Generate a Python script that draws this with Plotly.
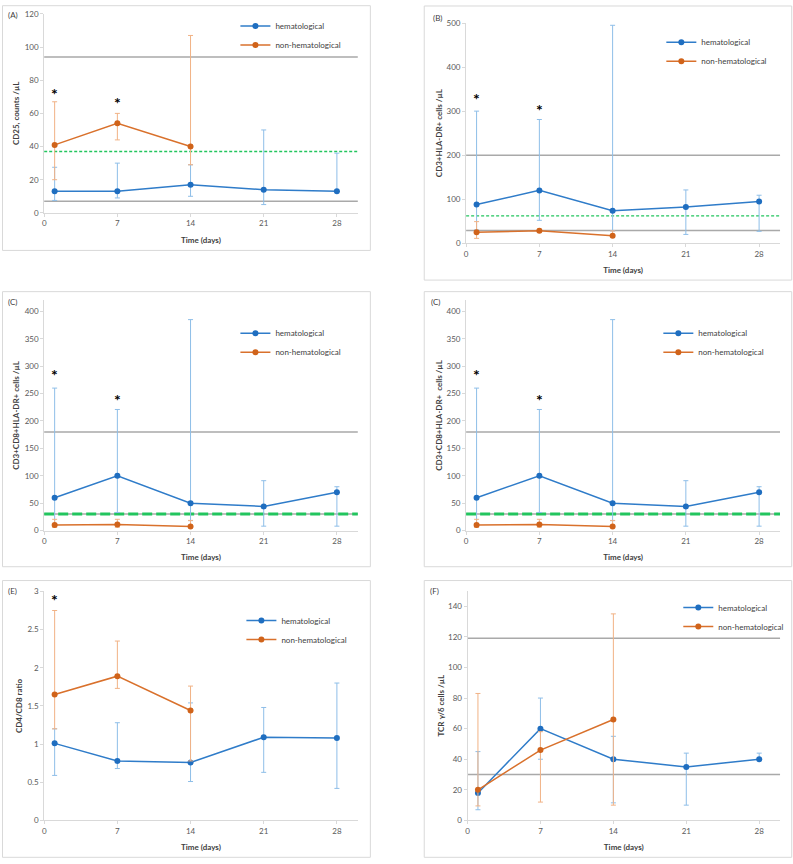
import plotly.graph_objects as go

W, H = 793, 864

# ---------------- data ----------------
days_hem = [1, 7, 14, 21, 28]
days_non = [1, 7, 14]
x_ticks = [0, 7, 14, 21, 28]

# (A) CD25
cd25_hem = [13, 13, 17, 14, 13]
cd25_hem_hi = [27.5, 30, 29, 50, 36]
cd25_hem_lo = [7.5, 9, 10, 5, 13]
cd25_non = [41, 54, 40]
cd25_non_hi = [67, 60, 107]
cd25_non_lo = [20, 44, 29]
cd25_ref = [94, 7]
cd25_green = 37
cd25_star_x = [1, 7]
cd25_star_y = [72, 66.5]

# (B) CD3+HLA-DR+
dr_hem = [88, 120, 74, 82, 95]
dr_hem_hi = [300, 281, 495, 121, 109]
dr_hem_lo = [30, 52, 28, 20, 27]
dr_non = [25, 28.5, 17]
dr_non_hi = [49, 32, 28]
dr_non_lo = [11, 25, 17]
dr_ref = [200, 29]
dr_green = 62
dr_star_x = [1, 7]
dr_star_y = [329, 303]

# (C) CD3+CD8+HLA-DR+
cd8_hem = [60, 100, 50, 44, 70]
cd8_hem_hi = [260, 221, 385, 91, 80]
cd8_hem_lo = [10, 33, 18, 8, 8]
cd8_non = [10, 11, 7.5]
cd8_non_hi = [20.5, 20.5, 18.5]
cd8_non_lo = [6, 6, 7]
cd8_ref = [180, 30]
cd8_green = 30
cd8_star_x = [1, 7]
cd8_star_y = [284, 239]

# (E) CD4/CD8 ratio
ratio_hem = [1.01, 0.78, 0.76, 1.09, 1.08]
ratio_hem_hi = [1.2, 1.28, 1.54, 1.48, 1.8]
ratio_hem_lo = [0.59, 0.68, 0.51, 0.63, 0.42]
ratio_non = [1.65, 1.89, 1.44]
ratio_non_hi = [2.75, 2.35, 1.76]
ratio_non_lo = [1.2, 1.73, 0.78]
ratio_star_x = [1]
ratio_star_y = [2.9]

# (F) TCR gamma/delta
gd_hem = [18, 60, 40, 35, 40]
gd_hem_hi = [45, 80, 55, 44, 44]
gd_hem_lo = [7, 40, 11.5, 10, 40]
gd_non = [20, 46, 66]
gd_non_hi = [83, 58, 135]
gd_non_lo = [9.5, 12, 10]
gd_ref = [119, 30]

# ---------------- style ----------------
FONT = "Lato, 'Open Sans', sans-serif"
HEM_LINE = "#2F7CC9"
HEM_MARK = "#1F6EC0"
HEM_ERR = "#8EBEE8"
NON_LINE = "#D9712C"
NON_MARK = "#D0631A"
NON_ERR = "#F1B285"
GRAY_REF = "#A9A9A9"
GREEN = "#22C55E"
AXIS = "#D9D9D9"


def px(xp):
    return xp / W


def py(yp):
    return 1 - yp / H


panels = [
    dict(label="(A)", ytitle="CD25, counts /µL", yr=[0, 120], dt=20,
         hem=(cd25_hem, cd25_hem_hi, cd25_hem_lo), non=(cd25_non, cd25_non_hi, cd25_non_lo),
         ref=cd25_ref, green=cd25_green, gwidth=1.5, gdash="3px,2px",
         stars=(cd25_star_x, cd25_star_y),
         plot=(42.3, 356.7, 9, 210.3), box=(0.5, 369.3, 0.7, 248.3),
         lab=(4, 10), leg=(234, 18.5), leggap=0, stand=(3, 9)),
    dict(label="(B)", ytitle="CD3+HLA-DR+ cells /µL", yr=[0, 500], dt=100,
         hem=(dr_hem, dr_hem_hi, dr_hem_lo), non=(dr_non, dr_non_hi, dr_non_lo),
         ref=dr_ref, green=dr_green, gwidth=1.2, gdash="3px,2px",
         stars=(dr_star_x, dr_star_y),
         plot=(465.3, 780, 18.3, 241), box=(423.3, 791.7, 1, 278.3),
         lab=(430, 13), leg=(661, 35), leggap=0, stand=(2, 9)),
    dict(label="(C)", ytitle="CD3+CD8+HLA-DR+ cells /µL", yr=[0, 420], dt=50,
         hem=(cd8_hem, cd8_hem_hi, cd8_hem_lo), non=(cd8_non, cd8_non_hi, cd8_non_lo),
         ref=cd8_ref, green=cd8_green, gwidth=3, gdash="10px,4px",
         stars=(cd8_star_x, cd8_star_y),
         plot=(42.3, 356.7, 298.9, 531.7), box=(0.5, 369.3, 290, 568.3),
         lab=(4, 300), leg=(234, 329.5), leggap=2, stand=(3, 9)),
    dict(label="(C)", ytitle="CD3+CD8+HLA-DR+  cells /µL", yr=[0, 420], dt=50,
         hem=(cd8_hem, cd8_hem_hi, cd8_hem_lo), non=(cd8_non, cd8_non_hi, cd8_non_lo),
         ref=cd8_ref, green=cd8_green, gwidth=3, gdash="10px,4px",
         stars=(cd8_star_x, cd8_star_y),
         plot=(465.3, 780, 298.9, 531.7), box=(423.3, 791.7, 290, 568.3),
         lab=(428, 300), leg=(658, 329.5), leggap=2, stand=(2, 9)),
    dict(label="(E)", ytitle="CD4/CD8 ratio", yr=[0, 3], dt=0.5,
         hem=(ratio_hem, ratio_hem_hi, ratio_hem_lo), non=(ratio_non, ratio_non_hi, ratio_non_lo),
         ref=[], green=None, stars=(ratio_star_x, ratio_star_y),
         plot=(42.3, 356.7, 593.3, 825), box=(0.5, 369.3, 582.3, 862.3),
         lab=(4, 593), leg=(240, 620), leggap=2, stand=(3, 9)),
    dict(label="(F)", ytitle="TCR γ/δ cells /µL", yr=[0, 150], dt=20,
         hem=(gd_hem, gd_hem_hi, gd_hem_lo), non=(gd_non, gd_non_hi, gd_non_lo),
         ref=gd_ref, green=None, stars=None,
         plot=(466.7, 780, 592.8, 825), box=(423.3, 791.7, 582.3, 862.3),
         lab=(427, 593), leg=(678, 607), leggap=2, stand=(2, 9)),
]

fig = go.Figure()
layout = dict(width=W, height=H, margin=dict(l=0, r=0, t=0, b=0),
              paper_bgcolor="white", plot_bgcolor="white",
              font=dict(family=FONT, size=8, color="#595959"),
              shapes=[], annotations=[])


def err(vals, hi, lo):
    return dict(type="data", symmetric=False,
                array=[h - v for h, v in zip(hi, vals)],
                arrayminus=[v - l for v, l in zip(vals, lo)])


for i, p in enumerate(panels, start=1):
    sfx = "" if i == 1 else str(i)
    xa, ya = "x" + sfx, "y" + sfx
    lg = "legend" + sfx
    x0, x1, y0, y1 = p["plot"]

    layout["xaxis" + sfx] = dict(
        domain=[px(x0), px(x1)], anchor=ya, range=[0, 30], tickvals=x_ticks,
        showgrid=False, zeroline=False, showline=True, linecolor=AXIS, linewidth=1,
        ticks="outside", ticklen=3, tickcolor=AXIS, tickfont=dict(size=8, color="#595959"),
        title=dict(text="Time (days)", standoff=p["stand"][1],
                   font=dict(size=8, color="#404040", weight="bold")),
        fixedrange=True)
    layout["yaxis" + sfx] = dict(
        domain=[py(y1), py(y0)], anchor=xa, range=p["yr"], dtick=p["dt"],
        showgrid=False, zeroline=False, showline=True, linecolor=AXIS, linewidth=1,
        ticks="outside", ticklen=3, tickcolor=AXIS, tickfont=dict(size=8, color="#595959"),
        title=dict(text=p["ytitle"], standoff=p["stand"][0],
                   font=dict(size=8, color="#404040", weight="bold")),
        fixedrange=True)

    # reference lines
    for v in p["ref"]:
        layout["shapes"].append(dict(type="line", xref=xa + " domain", yref=ya,
                                     x0=0, x1=1, y0=v, y1=v, layer="below",
                                     line=dict(color=GRAY_REF, width=1.5)))
    if p["green"] is not None:
        layout["shapes"].append(dict(type="line", xref=xa + " domain", yref=ya,
                                     x0=0, x1=1, y0=p["green"], y1=p["green"], layer="below",
                                     line=dict(color=GREEN, width=p["gwidth"], dash=p["gdash"])))

    # panel frame
    bx0, bx1, by0, by1 = p["box"]
    layout["shapes"].append(dict(type="rect", xref="paper", yref="paper",
                                 x0=px(bx0), x1=px(bx1), y0=py(by1), y1=py(by0),
                                 line=dict(color=AXIS, width=1), layer="below"))

    # panel label
    layout["annotations"].append(dict(text=p["label"], xref="paper", yref="paper",
                                      x=px(p["lab"][0]), y=py(p["lab"][1]),
                                      xanchor="left", yanchor="middle", showarrow=False,
                                      font=dict(size=8, color="#404040")))

    # asterisks
    if p["stars"]:
        for sx, sy in zip(*p["stars"]):
            layout["annotations"].append(dict(text="*", x=sx, y=sy, xref=xa, yref=ya,
                                              showarrow=False, yanchor="middle",
                                              font=dict(size=16, color="#000000", weight="bold")))

    hv, hh, hl = p["hem"]
    nv, nh, nl = p["non"]
    fig.add_trace(go.Scatter(
        x=days_hem, y=hv, name="hematological", mode="lines+markers",
        xaxis=xa, yaxis=ya, legend=lg, legendgroup=f"h{i}",
        line=dict(color=HEM_LINE, width=1.5),
        marker=dict(color=HEM_MARK, size=6, symbol="circle"),
        error_y=dict(err(hv, hh, hl), color=HEM_ERR, thickness=1, width=2.5)))
    fig.add_trace(go.Scatter(
        x=days_non, y=nv, name="non-hematological", mode="lines+markers",
        xaxis=xa, yaxis=ya, legend=lg, legendgroup=f"n{i}",
        line=dict(color=NON_LINE, width=1.5),
        marker=dict(color=NON_MARK, size=6, symbol="circle"),
        error_y=dict(err(nv, nh, nl), color=NON_ERR, thickness=1, width=2.5)))

    lx, ly = p["leg"]
    layout[lg] = dict(x=px(lx), y=py(ly - 12), xanchor="left", yanchor="top",
                      bgcolor="rgba(0,0,0,0)", borderwidth=0,
                      tracegroupgap=p["leggap"], traceorder="normal",
                      font=dict(size=8, color="#404040", family=FONT))

fig.update_layout(**layout)
fig.write_html("out.html", config={"displayModeBar": False},
               post_script="document.body.style.margin='0';document.body.style.padding='0';")
